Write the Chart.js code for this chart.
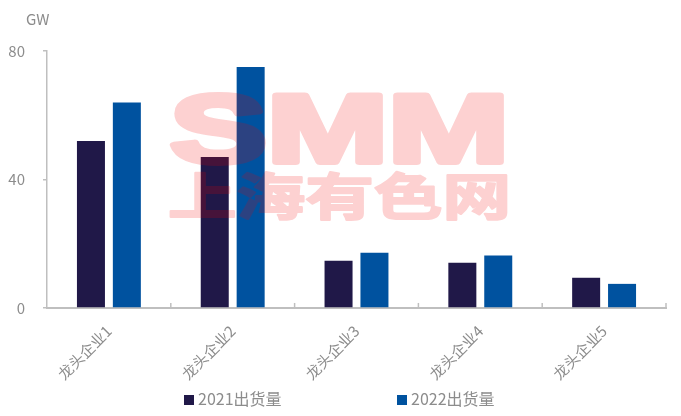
<!DOCTYPE html>
<html>
<head>
<meta charset="utf-8">
<script src="https://cdn.jsdelivr.net/npm/chart.js@4"></script>
<style>
    body { margin: 0; background: #fff; }
    #wrap { position: relative; width: 681px; height: 416px; }
    #unit { position: absolute; left: 26px; top: 8px; font: 15px "Noto Sans CJK SC", sans-serif; color: #8c8c8c; }
    .legend { position: absolute; top: 386px; font: 16px "Noto Sans CJK SC", sans-serif; color: #8c8c8c; white-space: nowrap; }
    .legend i { display: inline-block; width: 10px; height: 10px; margin-right: 4px; vertical-align: 0px; }
</style>
</head>
<body>
<div id="wrap">
    <canvas id="barChart" width="681" height="416"></canvas>
    <div id="unit">GW</div>
    <div class="legend" style="left:184px"><i style="background:#201848"></i>2021出货量</div>
    <div class="legend" style="left:397px"><i style="background:#00529f"></i>2022出货量</div>
</div>
<script>
// data
const companies = ['龙头企业1', '龙头企业2', '龙头企业3', '龙头企业4', '龙头企业5'];
const ship2021 = [52, 47, 14.7, 14.1, 9.4];
const ship2022 = [64, 75, 17.2, 16.3, 7.5];
const yTicks = [0, 40, 80];

const axisGray = '#bfbfbf';
const textGray = '#8c8c8c';

// watermark drawn over the bars, like the original picture
const watermark = {
    id: 'watermark',
    afterDatasetsDraw(chart) {
        const off = document.createElement('canvas');
        off.width = chart.width;
        off.height = chart.height;
        const o = off.getContext('2d');
        o.fillStyle = o.strokeStyle = 'rgb(240, 0, 0)';
        o.lineJoin = 'round';
        // SMM, heavy
        o.font = 'bold 96px "Liberation Sans"';
        let w = o.measureText('SMM').width;
        o.save();
        o.translate(170, 162);
        o.scale(339 / w, 1);
        o.lineWidth = 6;
        o.fillText('SMM', 0, 0);
        o.strokeText('SMM', 0, 0);
        o.restore();
        // chinese line
        o.font = 'bold 50px "Noto Sans CJK SC"';
        w = o.measureText('上海有色网').width;
        o.save();
        o.translate(168, 215);
        o.scale(343 / w, 1);
        o.lineWidth = 2;
        o.fillText('上海有色网', 0, 0);
        o.strokeText('上海有色网', 0, 0);
        o.restore();

        const c = chart.ctx;
        c.save();
        c.globalAlpha = 0.18;
        c.drawImage(off, 0, 0);
        c.restore();
    }
};

// small inward tick marks on the category axis
const catTicks = {
    id: 'catTicks',
    afterDraw(chart) {
        const x = chart.scales.x;
        const c = chart.ctx;
        const step = (x.right - x.left) / companies.length;
        c.save();
        c.strokeStyle = axisGray;
        c.lineWidth = 1.5;
        for (let i = 1; i <= companies.length; i++) {
            const px = x.left + i * step;
            c.beginPath();
            c.moveTo(px, x.top);
            c.lineTo(px, x.top - 5);
            c.stroke();
        }
        c.restore();
    }
};

new Chart(document.getElementById('barChart'), {
    type: 'bar',
    data: {
        labels: companies,
        datasets: [
            { label: '2021出货量', data: ship2021, backgroundColor: '#201848' },
            { label: '2022出货量', data: ship2022, backgroundColor: '#00529f' }
        ]
    },
    options: {
        responsive: false,
        animation: false,
        categoryPercentage: 0.58,
        barPercentage: 0.78,
        layout: { padding: { top: 51, right: 15, bottom: 27, left: 0 } },
        plugins: {
            legend: { display: false },
            tooltip: { enabled: false }
        },
        scales: {
            x: {
                grid: { display: false },
                border: { color: axisGray, width: 2 },
                ticks: {
                    color: textGray,
                    font: { family: '"Noto Sans CJK SC"', size: 15 },
                    minRotation: 45,
                    maxRotation: 45,
                    padding: 6
                }
            },
            y: {
                min: 0,
                max: 80,
                afterBuildTicks: s => { s.ticks = yTicks.map(v => ({ value: v })); },
                afterFit: s => { s.width = 47; },
                grid: { drawOnChartArea: false, tickLength: 4, color: axisGray, lineWidth: 1.5 },
                border: { color: axisGray, width: 1.5 },
                ticks: {
                    color: textGray,
                    font: { family: '"Noto Sans CJK SC"', size: 15 },
                    padding: 18
                }
            }
        }
    },
    plugins: [watermark, catTicks]
});
</script>
</body>
</html>
